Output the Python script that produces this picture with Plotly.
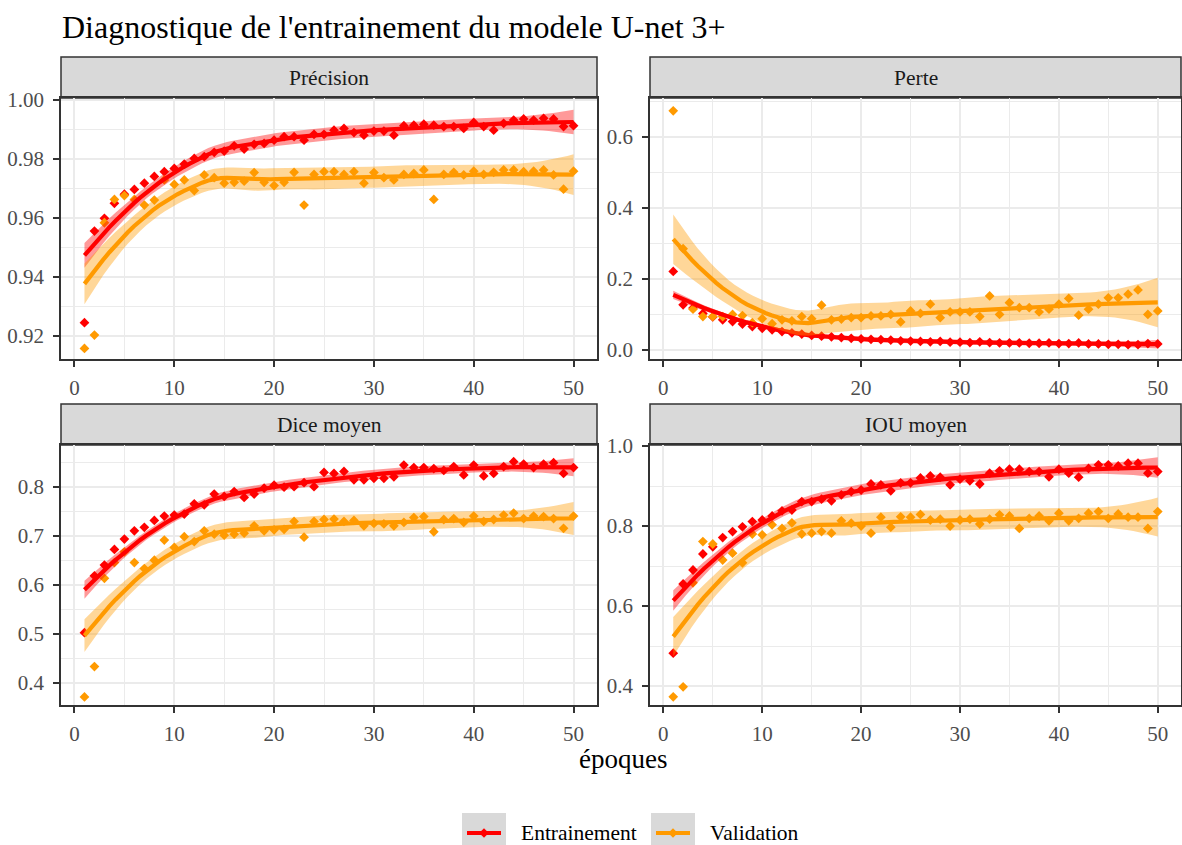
import numpy as np
import plotly.graph_objects as go

# ---------------- data ----------------
epochs = list(range(1, 51))

prec_train = [0.9245, 0.9556, 0.9599, 0.9650, 0.9681, 0.9697, 0.9718, 0.9741, 0.9757, 0.9768,
              0.9783, 0.9802, 0.9808, 0.9823, 0.9827, 0.9845, 0.9834, 0.9850, 0.9853, 0.9864,
              0.9876, 0.9876, 0.9864, 0.9884, 0.9884, 0.9898, 0.9904, 0.9890, 0.9881, 0.9895,
              0.9895, 0.9881, 0.9913, 0.9915, 0.9918, 0.9915, 0.9910, 0.9910, 0.9904, 0.9924,
              0.9910, 0.9898, 0.9921, 0.9932, 0.9936, 0.9932, 0.9938, 0.9936, 0.9910, 0.9913]
prec_val = [0.9158, 0.9203, 0.9584, 0.9663, 0.9676, 0.9663, 0.9644, 0.9661, 0.9729, 0.9714,
            0.9729, 0.9693, 0.9746, 0.9737, 0.9718, 0.9721, 0.9725, 0.9754, 0.9721, 0.9710,
            0.9721, 0.9755, 0.9644, 0.9748, 0.9757, 0.9757, 0.9748, 0.9757, 0.9718, 0.9754,
            0.9737, 0.9729, 0.9748, 0.9751, 0.9763, 0.9663, 0.9748, 0.9755, 0.9746, 0.9759,
            0.9748, 0.9755, 0.9763, 0.9763, 0.9757, 0.9759, 0.9763, 0.9746, 0.9698, 0.9759]

loss_train = [0.221, 0.127, 0.118, 0.103, 0.093, 0.085, 0.080, 0.073, 0.066, 0.061,
              0.057, 0.052, 0.048, 0.045, 0.041, 0.039, 0.037, 0.035, 0.033, 0.031,
              0.030, 0.029, 0.028, 0.026, 0.025, 0.024, 0.023, 0.024, 0.022, 0.022,
              0.021, 0.023, 0.021, 0.020, 0.020, 0.020, 0.019, 0.019, 0.020, 0.018,
              0.018, 0.020, 0.017, 0.017, 0.016, 0.016, 0.015, 0.015, 0.018, 0.017]
loss_val = [0.673, 0.285, 0.115, 0.094, 0.094, 0.094, 0.100, 0.097, 0.077, 0.088,
            0.074, 0.085, 0.082, 0.094, 0.088, 0.126, 0.085, 0.087, 0.091, 0.091,
            0.096, 0.096, 0.100, 0.079, 0.110, 0.103, 0.129, 0.091, 0.107, 0.107,
            0.107, 0.094, 0.152, 0.100, 0.133, 0.119, 0.119, 0.107, 0.115, 0.129,
            0.145, 0.098, 0.115, 0.129, 0.147, 0.147, 0.157, 0.169, 0.100, 0.110]

dice_train = [0.502, 0.618, 0.640, 0.672, 0.693, 0.710, 0.717, 0.731, 0.740, 0.742,
              0.744, 0.765, 0.763, 0.785, 0.780, 0.790, 0.778, 0.785, 0.797, 0.803,
              0.799, 0.800, 0.808, 0.800, 0.829, 0.827, 0.831, 0.814, 0.814, 0.817,
              0.817, 0.820, 0.844, 0.839, 0.839, 0.837, 0.833, 0.841, 0.824, 0.844,
              0.822, 0.827, 0.841, 0.851, 0.846, 0.839, 0.846, 0.849, 0.827, 0.839]
dice_val = [0.371, 0.433, 0.613, 0.645, 0.667, 0.645, 0.633, 0.650, 0.691, 0.676,
            0.698, 0.688, 0.710, 0.703, 0.701, 0.703, 0.705, 0.720, 0.710, 0.712,
            0.713, 0.729, 0.697, 0.729, 0.733, 0.734, 0.729, 0.731, 0.720, 0.725,
            0.724, 0.720, 0.727, 0.737, 0.739, 0.708, 0.733, 0.735, 0.727, 0.740,
            0.729, 0.733, 0.742, 0.746, 0.735, 0.740, 0.739, 0.735, 0.715, 0.740]

iou_train = [0.482, 0.655, 0.690, 0.730, 0.748, 0.771, 0.786, 0.798, 0.811, 0.815,
             0.825, 0.838, 0.840, 0.861, 0.861, 0.867, 0.863, 0.878, 0.886, 0.890,
             0.905, 0.903, 0.888, 0.908, 0.908, 0.920, 0.925, 0.922, 0.903, 0.917,
             0.913, 0.905, 0.932, 0.938, 0.942, 0.942, 0.936, 0.936, 0.923, 0.942,
             0.932, 0.922, 0.944, 0.953, 0.953, 0.950, 0.957, 0.957, 0.932, 0.936]
iou_val = [0.373, 0.398, 0.658, 0.761, 0.755, 0.715, 0.732, 0.708, 0.780, 0.778,
           0.803, 0.794, 0.808, 0.780, 0.782, 0.786, 0.782, 0.813, 0.807, 0.800,
           0.782, 0.822, 0.797, 0.823, 0.822, 0.829, 0.815, 0.817, 0.800, 0.815,
           0.817, 0.805, 0.817, 0.828, 0.825, 0.794, 0.819, 0.825, 0.813, 0.832,
           0.813, 0.819, 0.832, 0.836, 0.819, 0.830, 0.822, 0.822, 0.794, 0.836]

facet_titles = ["Précision", "Perte", "Dice moyen", "IOU moyen"]
series_names = ["Entrainement", "Validation"]
x_ticks = [0, 10, 20, 30, 40, 50]
x_title = "époques"
chart_title = "Diagnostique de l'entrainement du modele U-net 3+"

# ---------------- loess (R default: span .75, degree 2, kd-tree interpolation) ----------------
def _local_rows(x, x0, q):
    d = np.abs(x - x0)
    h = np.sort(d)[q - 1]
    u = np.clip(d / h, 0, 1)
    w = (1 - u ** 3) ** 3
    dx = x - x0
    X = np.vstack([np.ones_like(x), dx, dx ** 2]).T
    XtW = X.T * w
    B = np.linalg.solve(XtW @ X, XtW)
    return B[0], B[1]


def _tq975(df):
    z = 1.959963984540054
    g1 = (z ** 3 + z) / 4
    g2 = (5 * z ** 5 + 16 * z ** 3 + 3 * z) / 96
    g3 = (3 * z ** 7 + 19 * z ** 5 + 17 * z ** 3 - 15 * z) / 384
    g4 = (79 * z ** 9 + 776 * z ** 7 + 1482 * z ** 5 - 1920 * z ** 3 - 945 * z) / 92160
    return z + g1 / df + g2 / df ** 2 + g3 / df ** 3 + g4 / df ** 4


def loess_smooth(xv, yv, span=0.75, n_out=80):
    x = np.asarray(xv, float)
    y = np.asarray(yv, float)
    n = len(x)
    q = int(np.floor(n * span))
    xs = np.sort(x)
    fc = int(np.floor(n * span * 0.2))
    mu = 0.005 * max(xs[-1] - xs[0], 1e-30)
    verts = {xs[0] - mu, xs[-1] + mu}

    def split(l, u):
        if u - l + 1 <= fc:
            return
        m = (l + u + 2) // 2 - 1
        verts.add(xs[m])
        split(l, m)
        split(m + 1, u)

    split(0, n - 1)
    V = np.array(sorted(verts))
    vals, slopes = [], []
    for v in V:
        a, b = _local_rows(x, v, q)
        vals.append(a)
        slopes.append(b)
    vals = np.array(vals)
    slopes = np.array(slopes)

    def op(xo):
        j = np.searchsorted(V, xo) - 1
        j = int(min(max(j, 0), len(V) - 2))
        h = V[j + 1] - V[j]
        t = (xo - V[j]) / h
        h00 = 2 * t ** 3 - 3 * t ** 2 + 1
        h10 = t ** 3 - 2 * t ** 2 + t
        h01 = -2 * t ** 3 + 3 * t ** 2
        h11 = t ** 3 - t ** 2
        return h00 * vals[j] + h10 * h * slopes[j] + h01 * vals[j + 1] + h11 * h * slopes[j + 1]

    xout = np.linspace(x.min(), x.max(), n_out)
    Lout = np.array([op(xo) for xo in xout])
    Ld = np.array([op(xi) for xi in x])
    res = y - Ld @ y
    M = np.eye(n) - Ld
    R = M.T @ M
    d1 = np.trace(R)
    d2 = np.trace(R @ R)
    sigma = np.sqrt(np.sum(res ** 2) / d1)
    se = sigma * np.sqrt(np.sum(Lout ** 2, axis=1))
    tval = _tq975(d1 ** 2 / d2)
    fit = Lout @ y
    return xout, fit, fit - tval * se, fit + tval * se


# ---------------- figure ----------------
W, H = 1182, 845
COLORS = ["#FF0000", "#FF9A00"]
FILLS = ["rgba(255,0,0,0.4)", "rgba(255,154,0,0.4)"]
SERIF = "Liberation Serif"
LW = 4.2

colx = [[61 / W, 597 / W], [650 / W, 1181 / W]]
rowy = [[(H - 359) / H, (H - 98) / H], [(H - 705) / H, (H - 445) / H]]

panels = [
    dict(data=(prec_train, prec_val), col=0, row=0, yr=[0.9122, 1.0007], dt=0.02, mdt=0.01, fmt=".2f"),
    dict(data=(loss_train, loss_val), col=1, row=0, yr=[-0.0253, 0.709], dt=0.2, mdt=0.1, fmt=".1f"),
    dict(data=(dice_train, dice_val), col=0, row=1, yr=[0.3545, 0.885], dt=0.1, mdt=0.05, fmt=".1f"),
    dict(data=(iou_train, iou_val), col=1, row=1, yr=[0.3525, 1.0025], dt=0.2, mdt=0.1, fmt=".1f"),
]

fig = go.Figure()
layout = dict(
    width=W, height=H, margin=dict(l=0, r=0, t=0, b=0, autoexpand=False),
    paper_bgcolor="white", plot_bgcolor="white",
    font=dict(family=SERIF, color="#1A1A1A"),
    showlegend=False,
)
shapes, annotations = [], []
grid_major = "#EBEBEB"
axis_common = dict(
    showline=True, mirror=True, linecolor="#333333", linewidth=1.5,
    ticks="outside", ticklen=6, tickwidth=1.5, tickcolor="#333333",
    showgrid=True, gridcolor=grid_major, gridwidth=1.8, zeroline=False,
    tickfont=dict(family=SERIF, size=21, color="#4D4D4D"),
)

for i, p in enumerate(panels):
    k = "" if i == 0 else str(i + 1)
    xa, ya = "x" + k, "y" + k
    xd = colx[p["col"]]
    yd = rowy[p["row"]]
    layout["xaxis" + k] = dict(
        axis_common, domain=xd, anchor=ya, range=[-1.35, 52.35],
        tickmode="array", tickvals=x_ticks, ticktext=[str(t) for t in x_ticks],
        ticklabelstandoff=3,
        minor=dict(dtick=5, tick0=0, showgrid=True, gridcolor=grid_major, gridwidth=0.9, ticks=""),
    )
    layout["yaxis" + k] = dict(
        axis_common, domain=yd, anchor=xa, range=p["yr"], tick0=0, dtick=p["dt"],
        tickformat=p["fmt"], ticklabelstandoff=5,
        minor=dict(dtick=p["mdt"], tick0=0, showgrid=True, gridcolor=grid_major, gridwidth=0.9, ticks=""),
    )
    # points
    for s, yv in enumerate(p["data"]):
        fig.add_trace(go.Scatter(
            x=epochs, y=yv, mode="markers", xaxis=xa, yaxis=ya, name=series_names[s],
            marker=dict(symbol="diamond", size=7.5, color=COLORS[s], line=dict(width=0)),
            hoverinfo="skip"))
    # smooths
    for s, yv in enumerate(p["data"]):
        xo, fit, lo, hi = loess_smooth(epochs, yv)
        fig.add_trace(go.Scatter(
            x=np.concatenate([xo, xo[::-1]]), y=np.concatenate([hi, lo[::-1]]),
            fill="toself", fillcolor=FILLS[s], line=dict(width=0), mode="lines",
            xaxis=xa, yaxis=ya, name=series_names[s], hoverinfo="skip"))
        fig.add_trace(go.Scatter(
            x=xo, y=fit, mode="lines", line=dict(color=COLORS[s], width=LW),
            xaxis=xa, yaxis=ya, name=series_names[s], hoverinfo="skip"))
    # strip
    shapes.append(dict(type="rect", xref="paper", yref="paper",
                       x0=xd[0], x1=xd[1], y0=yd[1], y1=yd[1] + 41 / H,
                       fillcolor="#D9D9D9", line=dict(color="#333333", width=1.5), layer="below"))
    annotations.append(dict(text=facet_titles[i], xref="paper", yref="paper",
                            x=(xd[0] + xd[1]) / 2, y=yd[1] + 20.5 / H, xanchor="center", yanchor="middle",
                            showarrow=False, font=dict(family=SERIF, size=21.5, color="#1A1A1A")))

# legend (ggplot-style keys: grey box, coloured line with a diamond, label)
key_left = [462, 651]
key_y = 833
for s in range(2):
    x0 = key_left[s]
    shapes.append(dict(type="rect", xref="paper", yref="paper",
                       x0=x0 / W, x1=(x0 + 44) / W, y0=-0.01, y1=(H - 813) / H,
                       fillcolor="#D9D9D9", line=dict(width=0), layer="above"))
    shapes.append(dict(type="line", xref="paper", yref="paper",
                       x0=(x0 + 5) / W, x1=(x0 + 39) / W, y0=(H - key_y) / H, y1=(H - key_y) / H,
                       line=dict(color=COLORS[s], width=LW), layer="above"))
    cx, cy, r = x0 + 22, key_y, 4.8
    path = "M{:.5f},{:.5f} L{:.5f},{:.5f} L{:.5f},{:.5f} L{:.5f},{:.5f} Z".format(
        cx / W, (H - cy + r) / H, (cx + r) / W, (H - cy) / H,
        cx / W, (H - cy - r) / H, (cx - r) / W, (H - cy) / H)
    shapes.append(dict(type="path", xref="paper", yref="paper", path=path,
                       fillcolor=COLORS[s], line=dict(width=0), layer="above"))
    annotations.append(dict(text=series_names[s], xref="paper", yref="paper",
                            x=(x0 + 57) / W, y=(H - key_y) / H, xanchor="left", yanchor="middle",
                            showarrow=False, font=dict(family=SERIF, size=21.5, color="#000000")))

annotations.append(dict(text=x_title, xref="paper", yref="paper", x=623 / W, y=(H - 759) / H,
                        xanchor="center", yanchor="middle", showarrow=False,
                        font=dict(family=SERIF, size=27, color="#000000")))

layout["title"] = dict(text=chart_title, x=62 / W, xanchor="left", xref="paper",
                       y=1 - 27 / H, yanchor="middle",
                       font=dict(family=SERIF, size=32, color="#000000"))
layout["shapes"] = shapes
layout["annotations"] = annotations
fig.update_layout(**layout)
fig.write_html("out.html", config={"displayModeBar": False},
               post_script="document.body.style.margin='0';document.body.style.overflow='hidden';")
